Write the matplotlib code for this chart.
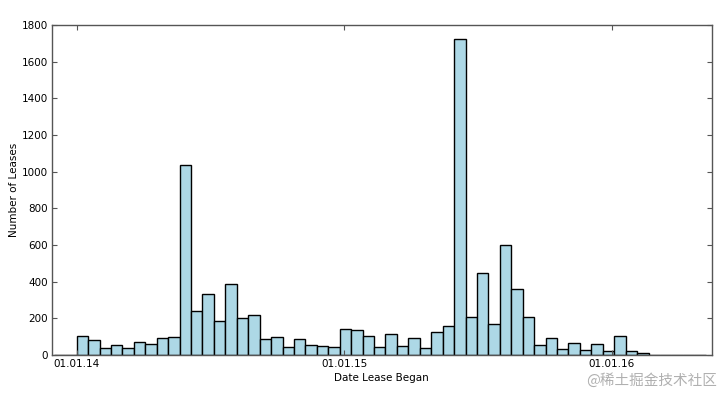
import datetime as dt
import numpy as np
import matplotlib
matplotlib.use("Agg")
import matplotlib.pyplot as plt
import matplotlib.dates as mdates

# half-monthly lease counts (approx. 15.6 day bins)
bin_days = 15.6
first_bin = dt.datetime(2014, 1, 1) - dt.timedelta(days=2 * bin_days)
counts = [
    0, 0,
    104, 80, 36, 53, 38, 71, 58, 91, 96, 1035,
    242, 333, 184, 387, 200, 216, 85, 100, 46, 85,
    53, 47, 42, 140, 134, 102, 44, 113, 47, 91,
    38, 128, 156, 1725, 205, 445, 167, 600, 358, 209,
    54, 90, 33, 64, 27, 58, 22, 102, 24, 9,
    0, 0, 0, 0, 0,
]
x_ticks = [dt.datetime(2014, 1, 1), dt.datetime(2015, 1, 1), dt.datetime(2016, 1, 1)]
y_ticks = [0, 200, 400, 600, 800, 1000, 1200, 1400, 1600, 1800]

edges = [first_bin + dt.timedelta(days=i * bin_days) for i in range(len(counts))]

plt.rcParams['font.family'] = ['DejaVu Sans']
fig = plt.figure(figsize=(7.21, 3.94), dpi=100, facecolor='white')
ax = fig.add_axes([0.072, 0.099, 0.915, 0.8375])

ax.bar(edges, counts, width=bin_days, align='edge',
       color='lightblue', edgecolor='black', linewidth=1.0)

ax.set_xlim(dt.datetime(2014, 1, 1) - dt.timedelta(days=33.7),
            dt.datetime(2016, 1, 1) + dt.timedelta(days=136))
ax.set_ylim(0, 1800)
ax.set_xticks(x_ticks)
ax.xaxis.set_major_formatter(mdates.DateFormatter('%d.%m.%y'))
ax.set_yticks(y_ticks)

for s in ax.spines.values():
    s.set_color('#555555')
    s.set_linewidth(1.0)
ax.tick_params(direction='in', length=3.5, width=0.8, color='#555555',
               top=True, right=True, labelsize=7.5, pad=3)

ax.set_xlabel('Date Lease Began', fontsize=7.5, labelpad=3)
ax.set_ylabel('Number of Leases', fontsize=7.5, labelpad=2)

fig.text(0.995, 0.015, '@稀土掘金技术社区', ha='right', va='bottom',
         fontsize=10.5, color='#b0b0b0',
         family=['Noto Sans CJK SC', 'DejaVu Sans'])

fig.savefig('out.png', dpi=100, facecolor='white')
